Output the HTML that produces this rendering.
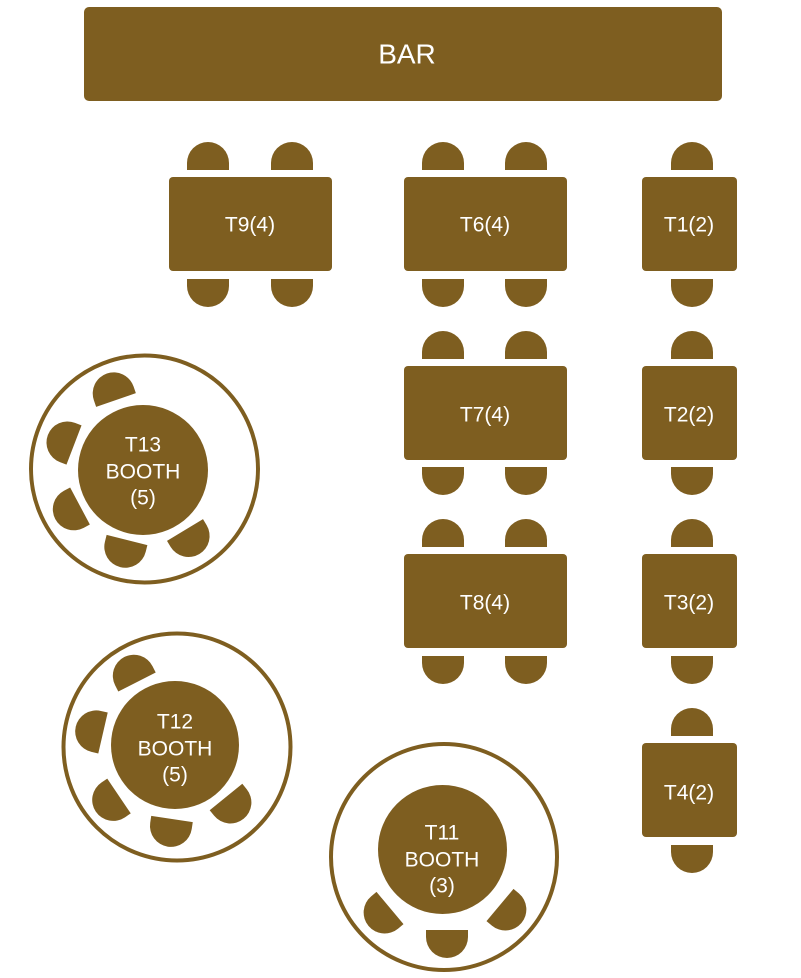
<!DOCTYPE html>
<html><head><meta charset="utf-8"><style>
html,body{margin:0;padding:0;background:#fff;}
svg{display:block;}
text{font-family:"Liberation Sans",sans-serif;fill:#fff;text-anchor:middle;dominant-baseline:central;}
</style></head><body>
<svg width="801" height="978" viewBox="0 0 801 978" xmlns="http://www.w3.org/2000/svg">
<defs>
<path id="ch" d="M0 -21 L7 -21 A21 21 0 0 1 7 21 L0 21 Z" fill="#7e5e20"/>
</defs>
<g fill="#7e5e20">
<rect x="84" y="7" width="638" height="94" rx="5"/>
<!-- rect tables -->
<rect x="169" y="177" width="163" height="94" rx="4"/>
<rect x="404" y="177" width="163" height="94" rx="4"/>
<rect x="642" y="177" width="95" height="94" rx="4"/>
<rect x="404" y="366" width="163" height="94" rx="4"/>
<rect x="642" y="366" width="95" height="94" rx="4"/>
<rect x="404" y="554" width="163" height="94" rx="4"/>
<rect x="642" y="554" width="95" height="94" rx="4"/>
<rect x="642" y="743" width="95" height="94" rx="4"/>
</g>
<!-- chairs for rect tables -->
<g>
<use href="#ch" transform="translate(208,170) rotate(-90)"/>
<use href="#ch" transform="translate(292,170) rotate(-90)"/>
<use href="#ch" transform="translate(208,279) rotate(90)"/>
<use href="#ch" transform="translate(292,279) rotate(90)"/>
<use href="#ch" transform="translate(443,170) rotate(-90)"/>
<use href="#ch" transform="translate(526,170) rotate(-90)"/>
<use href="#ch" transform="translate(443,279) rotate(90)"/>
<use href="#ch" transform="translate(526,279) rotate(90)"/>
<use href="#ch" transform="translate(692,170) rotate(-90)"/>
<use href="#ch" transform="translate(692,279) rotate(90)"/>
<use href="#ch" transform="translate(443,359) rotate(-90)"/>
<use href="#ch" transform="translate(526,359) rotate(-90)"/>
<use href="#ch" transform="translate(443,467) rotate(90)"/>
<use href="#ch" transform="translate(526,467) rotate(90)"/>
<use href="#ch" transform="translate(692,359) rotate(-90)"/>
<use href="#ch" transform="translate(692,467) rotate(90)"/>
<use href="#ch" transform="translate(443,547) rotate(-90)"/>
<use href="#ch" transform="translate(526,547) rotate(-90)"/>
<use href="#ch" transform="translate(443,656) rotate(90)"/>
<use href="#ch" transform="translate(526,656) rotate(90)"/>
<use href="#ch" transform="translate(692,547) rotate(-90)"/>
<use href="#ch" transform="translate(692,656) rotate(90)"/>
<use href="#ch" transform="translate(692,736) rotate(-90)"/>
<use href="#ch" transform="translate(692,845) rotate(90)"/>
</g>
<!-- booths -->
<g fill="none" stroke="#7e5e20" stroke-width="4">
<circle cx="144.5" cy="469" r="113.5"/>
<circle cx="177" cy="747" r="113.5"/>
<circle cx="444" cy="857" r="113"/>
</g>
<g fill="#7e5e20">
<circle cx="143" cy="470" r="65"/>
<circle cx="175" cy="745" r="64"/>
<circle cx="442.5" cy="849.5" r="64.5"/>
</g>
<g>
<use href="#ch" transform="translate(116,400) rotate(-109)"/>
<use href="#ch" transform="translate(74,445) rotate(201)"/>
<use href="#ch" transform="translate(80,506) rotate(152)"/>
<use href="#ch" transform="translate(127,540) rotate(104)"/>
<use href="#ch" transform="translate(185,530) rotate(59)"/>

<use href="#ch" transform="translate(137,682) rotate(-117)"/>
<use href="#ch" transform="translate(103,733) rotate(193)"/>
<use href="#ch" transform="translate(119,796) rotate(146)"/>
<use href="#ch" transform="translate(172,819) rotate(98.5)"/>
<use href="#ch" transform="translate(226,797) rotate(51)"/>

<use href="#ch" transform="translate(390,908) rotate(140)"/>
<use href="#ch" transform="translate(447,930) rotate(90)"/>
<use href="#ch" transform="translate(500,905) rotate(40)"/>
</g>
<!-- labels -->
<text x="407" y="54" font-size="28">BAR</text>
<g font-size="21">
<text x="250" y="225">T9(4)</text>
<text x="485" y="225">T6(4)</text>
<text x="689" y="225">T1(2)</text>
<text x="485" y="415">T7(4)</text>
<text x="689" y="415">T2(2)</text>
<text x="485" y="603">T8(4)</text>
<text x="689" y="603">T3(2)</text>
<text x="689" y="793">T4(2)</text>
<text x="143" y="445">T13</text>
<text x="143" y="472">BOOTH</text>
<text x="143" y="498">(5)</text>
<text x="175" y="722">T12</text>
<text x="175" y="749">BOOTH</text>
<text x="175" y="775">(5)</text>
<text x="442" y="833">T11</text>
<text x="442" y="860">BOOTH</text>
<text x="442" y="886">(3)</text>
</g>
</svg>
</body></html>
